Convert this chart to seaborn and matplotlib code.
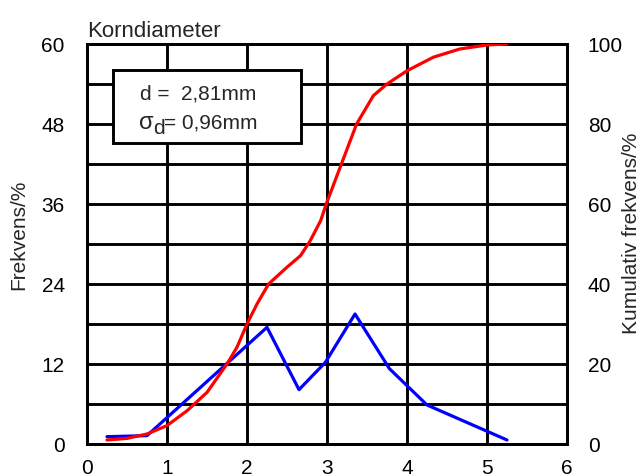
import pandas as pd
import matplotlib.pyplot as plt
import seaborn as sns
from matplotlib.patches import Rectangle

# Frequency per grain diameter (left axis, %)
freq_d = [0.25, 0.75, 2.25, 2.65, 2.98, 3.35, 3.78, 4.25, 5.25]
freq_val = [1.1, 1.25, 17.5, 8.15, 12.25, 19.5, 11.3, 5.85, 0.6]

# Cumulative frequency (right axis, %)
cum_d = [0.25, 0.5, 0.75, 1.0, 1.25, 1.5, 1.75, 1.875, 2.0, 2.125, 2.27, 2.5,
         2.67, 2.79, 2.92, 3.0, 3.18, 3.37, 3.58, 3.75, 4.0, 4.33, 4.66, 5.0, 5.25]
cum_val = [1.0, 1.4, 2.5, 4.6, 8.3, 12.9, 20.0, 24.2, 30.0, 35.0, 40.0, 44.2,
           47.1, 50.8, 55.8, 60.5, 70.0, 80.0, 87.1, 90.0, 93.3, 96.7, 98.75, 99.75, 100.0]

df_f = pd.DataFrame({"d": freq_d, "f": freq_val})
df_c = pd.DataFrame({"d": cum_d, "c": cum_val})

sns.set_style("white")
plt.rcParams['font.family'] = ['Liberation Sans', 'DejaVu Sans']

fig = plt.figure(figsize=(6.42, 4.77), dpi=100)
ax = fig.add_axes([0.1355, 0.0671, 0.7477, 0.8386])
ax2 = ax.twinx()

sns.lineplot(data=df_f, x="d", y="f", ax=ax, color="#0000ff", lw=2.3, zorder=4)
sns.lineplot(data=df_c, x="d", y="c", ax=ax2, color="#ff0000", lw=2.3, zorder=4)

ax.set_xlim(0, 6)
ax.set_ylim(0, 60)
ax2.set_ylim(0, 100)
ax.set_xticks(range(0, 7))
ax.set_yticks(range(0, 61, 12))
ax2.set_yticks(range(0, 101, 20))

# grid every 6 (left) / 1 (x)
for y in range(6, 60, 6):
    ax.axhline(y, color="black", lw=2.1, zorder=1)
for x in range(1, 6):
    ax.axvline(x, color="black", lw=2.1, zorder=1)

for a in (ax, ax2):
    for s in a.spines.values():
        s.set_color("black")
        s.set_linewidth(2.1)
    a.tick_params(length=0, labelsize=15, colors="black")
ax.tick_params(axis="y", pad=16)
ax.tick_params(axis="x", pad=10)
ax2.tick_params(axis="y", pad=15)

ax.set_xlabel("")
ax.set_ylabel("")
ax2.set_ylabel("")
fig.text(0.029, 0.507, "Frekvens/%", rotation=90, fontsize=15, ha="center", va="center")
fig.text(0.983, 0.51, "Kumulativ frekvens/%", rotation=90, fontsize=15, ha="center", va="center")

ax.set_title("Korndiameter", fontsize=16, loc="left", pad=6)

# annotation box
ax.add_patch(Rectangle((0.33, 45.15), 2.35, 10.95, facecolor="white",
                       edgecolor="black", lw=2.1, zorder=5))
ax.text(0.66, 51.75, "d =  2,81mm", fontsize=15, va="baseline", zorder=6)
ax.text(0.65, 47.4, "σ", fontsize=17, va="baseline", zorder=6)
ax.text(0.83, 46.6, "d", fontsize=15, va="baseline", zorder=6)
ax.text(0.96, 47.4, "= 0,96mm", fontsize=15, va="baseline", zorder=6)

ax2.set_zorder(ax.get_zorder() + 1)
ax2.patch.set_visible(False)

fig.savefig("out.png", dpi=100)
